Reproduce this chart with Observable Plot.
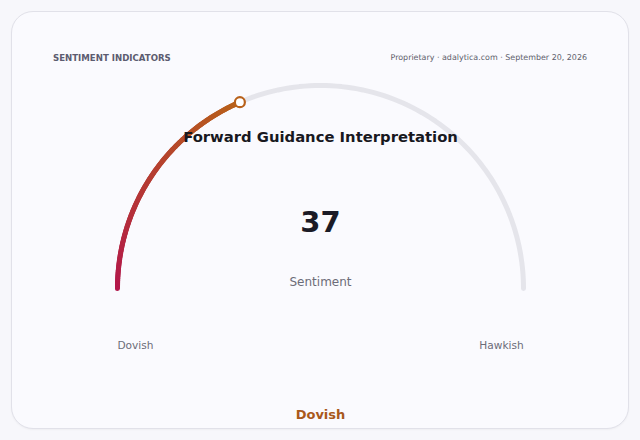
<!DOCTYPE html>
<html>
<head>
<meta charset="utf-8">
<script src="https://cdn.jsdelivr.net/npm/d3@7"></script>
<script src="https://cdn.jsdelivr.net/npm/@observablehq/plot@0.6"></script>
<style>
  html, body { margin: 0; padding: 0; background: #f7f7fb; width: 640px; height: 440px; overflow: hidden; font-family: "DejaVu Sans", sans-serif; }
  #card { position: absolute; left: 11px; top: 11px; width: 616px; height: 416px; border: 1px solid #e1e1e9; border-radius: 22px; background: #fafafe; box-shadow: 0 1px 2px rgba(0,0,0,0.04); }
  #hdrL { position: absolute; left: 53px; top: 53px; font-size: 8.6px; font-weight: bold; color: #5c5c70; letter-spacing: 0px; }
  #hdrR { position: absolute; right: 53px; top: 53px; font-size: 7.95px; color: #5e5e6c; }
  #chart { position: absolute; left: 0; top: 0; }
</style>
</head>
<body>
<div id="card"></div>
<div id="hdrL"></div>
<div id="hdrR"></div>
<div id="chart"></div>
<script>
// ---- data ----
const headerLeft = "SENTIMENT INDICATORS";
const headerRight = "Proprietary · adalytica.com · September 20, 2026";
const gaugeTitle = "Forward Guidance Interpretation";
const gaugeValue = [37];
const gaugeRange = [0, 100];
const gaugeLabel = "Sentiment";
const endLabels = ["Dovish", "Hawkish"];
const verdict = "Dovish";
const arcColors = ["#b3174b", "#b8611a"];

document.getElementById("hdrL").textContent = headerLeft;
document.getElementById("hdrR").textContent = headerRight;

// ---- geometry helpers (unit circle, value -> angle) ----
const v = gaugeValue[0];
const frac = v2 => (v2 - gaugeRange[0]) / (gaugeRange[1] - gaugeRange[0]);
const ang = f => Math.PI * (1 - f);
const N = 120;
const track = d3.range(N + 1).map(i => {
  const a = ang(i / N);
  return {x: Math.cos(a), y: Math.sin(a)};
});
const fv = frac(v);
const segs = d3.range(N).map(i => {
  const f1 = fv * i / N, f2 = fv * (i + 1) / N;
  return {x1: Math.cos(ang(f1)), y1: Math.sin(ang(f1)), x2: Math.cos(ang(f2)), y2: Math.sin(ang(f2)), t: i / (N - 1)};
});
const marker = [{x: Math.cos(ang(fv)), y: Math.sin(ang(fv))}];

const R = 203;
const chart = Plot.plot({
  width: 640,
  height: 440,
  margin: 0,
  style: {background: "transparent", fontFamily: "DejaVu Sans, sans-serif"},
  x: {domain: [-320 / R, 320 / R], axis: null},
  y: {domain: [-152 / R, 288 / R], axis: null},
  color: {type: "linear", domain: [0, 1], range: arcColors, interpolate: "rgb"},
  marks: [
    Plot.line(track, {x: "x", y: "y", stroke: "#e5e5eb", strokeWidth: 5, strokeLinecap: "round", curve: "linear"}),
    Plot.link(segs, {x1: "x1", y1: "y1", x2: "x2", y2: "y2", stroke: "t", strokeWidth: 5, strokeLinecap: "round"}),
    Plot.dot(marker, {x: "x", y: "y", r: 5, fill: "#ffffff", stroke: arcColors[1], strokeWidth: 2.2}),
    Plot.text([gaugeTitle], {x: 0, y: 151 / R, text: d => d, fontSize: 14.8, fontWeight: "bold", fill: "#18181f"}),
    Plot.text(gaugeValue, {x: 0, y: 66 / R, text: d => String(d), fontSize: 29, fontWeight: "bold", fill: "#1b1b26"}),
    Plot.text([gaugeLabel], {x: 0, y: 6 / R, text: d => d, fontSize: 12, fill: "#6c6c78"}),
    Plot.text(endLabels, {x: (d, i) => i === 0 ? -185 / R : 181 / R, y: -57 / R, text: d => d, fontSize: 10.6, fill: "#6c6c78"}),
    Plot.text([verdict], {x: 0, y: -126 / R, text: d => d, fontSize: 13, fontWeight: "bold", fill: "#a9581b"})
  ]
});
document.getElementById("chart").appendChild(chart);
</script>
</body>
</html>
